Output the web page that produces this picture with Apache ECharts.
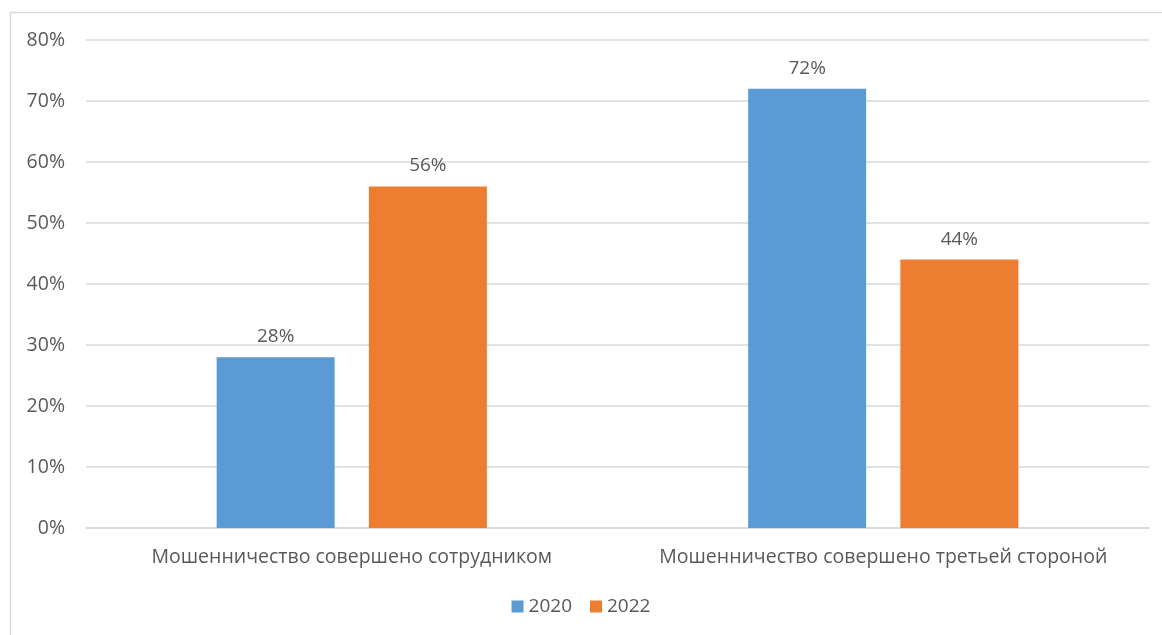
<!DOCTYPE html>
<html><head><meta charset="utf-8">
<script src="https://cdn.jsdelivr.net/npm/echarts@6/dist/echarts.min.js"></script>
<style>html,body{margin:0;padding:0;background:#fff}#c{width:1162px;height:635px}</style>
</head><body><div id="c"></div>
<script>
const categories = ['Мошенничество совершено сотрудником', 'Мошенничество совершено третьей стороной'];
const seriesNames = ['2020', '2022'];
const values2020 = [28, 72];
const values2022 = [56, 44];
const yTicks = [0, 10, 20, 30, 40, 50, 60, 70, 80];

const font = 'Open Sans';
const txt = '#595959';
const chart = echarts.init(document.getElementById('c'));
const lbl = {show: true, position: 'top', formatter: p => p.value + '%', color: txt, fontSize: 19, fontFamily: font, distance: 11};
chart.setOption({
  animation: false,
  graphic: [{type: 'rect', shape: {x: 10.5, y: 12.5, width: 1300, height: 800}, style: {fill: 'none', stroke: '#d9d9d9', lineWidth: 1.5}}],
  grid: {left: 86, right: 13, top: 40, bottom: 107},
  legend: {bottom: 14, left: 'center', itemWidth: 12, itemHeight: 12, itemGap: 18, icon: 'rect',
    textStyle: {color: txt, fontSize: 19, fontFamily: font}, data: seriesNames},
  xAxis: {type: 'category', data: categories, axisTick: {show: false},
    axisLine: {lineStyle: {color: '#d9d9d9', width: 1.5}},
    axisLabel: {color: txt, fontSize: 19.5, fontFamily: font, margin: 19, interval: 0, hideOverlap: false}},
  yAxis: {type: 'value', min: yTicks[0], max: yTicks[yTicks.length - 1], interval: 10,
    axisLabel: {formatter: '{value}%', color: txt, fontSize: 19.5, fontFamily: font, margin: 21},
    splitLine: {lineStyle: {color: '#d9d9d9', width: 1.5}}},
  series: [
    {name: seriesNames[0], type: 'bar', data: values2020, barWidth: '22.2%', barGap: '29%', itemStyle: {color: '#5b9bd5'}, label: lbl},
    {name: seriesNames[1], type: 'bar', data: values2022, barWidth: '22.2%', barGap: '29%', itemStyle: {color: '#ed7d31'}, label: lbl}
  ]
});
</script></body></html>
